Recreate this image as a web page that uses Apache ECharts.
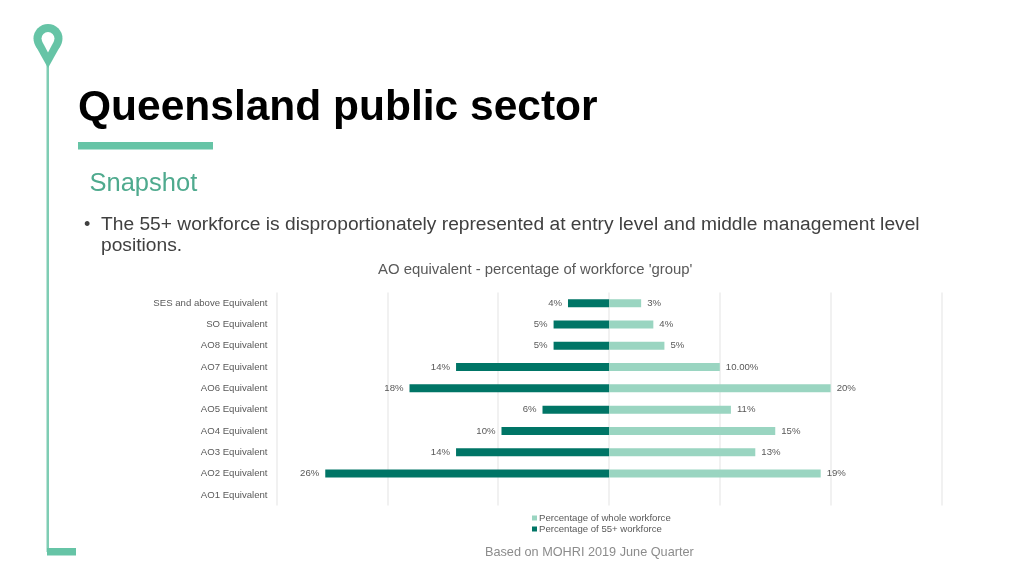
<!DOCTYPE html>
<html lang="en">
<head>
    <meta charset="UTF-8">
    <title>Queensland public sector</title>
    <script src="https://cdn.jsdelivr.net/npm/echarts@6/dist/echarts.min.js"></script>
    <style>
        html, body { margin: 0; padding: 0; background: #fff; }
        #main { width: 1024px; height: 576px; }
    </style>
</head>
<body>
    <div id="main"></div>
    <script>
        // Values, in percent
        var categories = ['SES and above Equivalent', 'SO Equivalent', 'AO8 Equivalent', 'AO7 Equivalent',
            'AO6 Equivalent', 'AO5 Equivalent', 'AO4 Equivalent', 'AO3 Equivalent', 'AO2 Equivalent', 'AO1 Equivalent'];
        var wholeWorkforce = [2.9, 4.0, 5.0, 10.0, 20.0, 11.0, 15.0, 13.2, 19.1, null];
        var workforce55 = [3.7, 5.0, 5.0, 13.8, 18.0, 6.0, 9.7, 13.8, 25.6, null];
        var wholeLabels = ['3%', '4%', '5%', '10.00%', '20%', '11%', '15%', '13%', '19%', ''];
        var labels55 = ['4%', '5%', '5%', '14%', '18%', '6%', '10%', '14%', '26%', ''];

        var green = '#66c4a6';
        var font = '"Liberation Sans", Arial, sans-serif';

        var chartDom = document.getElementById('main');
        var myChart = echarts.init(chartDom);

        // Slide furniture around the chart
        var furniture = [
            { type: 'rect', shape: { x: 46.5, y: 62, width: 2.5, height: 490 }, style: { fill: '#7fcdb4' } },
            { type: 'rect', shape: { x: 47, y: 548, width: 29, height: 7.5 }, style: { fill: green } },
            { type: 'rect', shape: { x: 78, y: 142, width: 135, height: 7.5 }, style: { fill: green } },
            // map pin: circle + triangle, with a smaller white one on top for the hole
            { type: 'circle', shape: { cx: 48, cy: 38.5, r: 14.5 }, style: { fill: green } },
            { type: 'polygon', shape: { points: [[35.4, 45.6], [60.6, 45.6], [48, 68]] }, style: { fill: green } },
            { type: 'circle', shape: { cx: 48, cy: 38.5, r: 6.5 }, style: { fill: '#fff' } },
            { type: 'polygon', shape: { points: [[42.2, 41.5], [53.8, 41.5], [48, 52.5]] }, style: { fill: '#fff' } },
            { type: 'text', style: { x: 78, y: 108, text: 'Queensland public sector', fill: '#000', font: 'bold 42.5px ' + font, textVerticalAlign: 'middle' } },
            { type: 'text', style: { x: 89.5, y: 184, text: 'Snapshot', fill: '#4faa8e', font: '25.5px ' + font, textVerticalAlign: 'middle' } },
            { type: 'text', style: { x: 84, y: 225, text: '•', fill: '#404040', font: '18px ' + font, textVerticalAlign: 'middle' } },
            { type: 'text', style: { x: 101, y: 225, text: 'The 55+ workforce is disproportionately represented at entry level and middle management level', fill: '#404040', font: '19.2px ' + font, textVerticalAlign: 'middle' } },
            { type: 'text', style: { x: 101, y: 246, text: 'positions.', fill: '#404040', font: '19.2px ' + font, textVerticalAlign: 'middle' } },
            { type: 'text', style: { x: 378, y: 270, text: "AO equivalent - percentage of workforce 'group'", fill: '#595959', font: '14.9px ' + font, textVerticalAlign: 'middle' } },
            { type: 'text', style: { x: 485, y: 552, text: 'Based on MOHRI 2019 June Quarter', fill: '#8c8c8c', font: '12.7px ' + font, textVerticalAlign: 'middle' } }
        ];

        var option = {
            animation: false,
            textStyle: { fontFamily: font },
            graphic: furniture,
            grid: { left: 276.5, right: 82.5, top: 292.5, height: 213, containLabel: false },
            legend: {
                left: 532,
                top: 513,
                orient: 'vertical',
                itemWidth: 5,
                itemHeight: 5,
                itemGap: 1,
                icon: 'rect',
                data: ['Percentage of whole workforce', 'Percentage of 55+ workforce'],
                textStyle: { color: '#595959', fontSize: 9.6, padding: [0, 0, 0, -3] },
                padding: 0
            },
            xAxis: {
                type: 'value',
                min: -30,
                max: 30,
                interval: 10,
                axisLabel: { show: false },
                axisLine: { show: false },
                axisTick: { show: false },
                splitLine: { lineStyle: { color: '#ececec', width: 1.5 } }
            },
            yAxis: {
                type: 'category',
                inverse: true,
                data: categories,
                axisLine: { show: false },
                axisTick: { show: false },
                axisLabel: { color: '#595959', fontSize: 9.6, margin: 9 }
            },
            series: [
                {
                    name: 'Percentage of whole workforce',
                    type: 'bar',
                    stack: 'total',
                    barWidth: 8,
                    itemStyle: { color: '#9ad5c1' },
                    label: {
                        show: true,
                        position: 'right',
                        distance: 6,
                        color: '#595959',
                        fontSize: 9.6,
                        formatter: function (p) { return wholeLabels[p.dataIndex]; }
                    },
                    data: wholeWorkforce
                },
                {
                    name: 'Percentage of 55+ workforce',
                    type: 'bar',
                    stack: 'total',
                    barWidth: 8,
                    itemStyle: { color: '#007566' },
                    label: {
                        show: true,
                        position: 'left',
                        distance: 6,
                        color: '#595959',
                        fontSize: 9.6,
                        formatter: function (p) { return labels55[p.dataIndex]; }
                    },
                    // drawn to the left of zero
                    data: workforce55.map(function (v) { return v === null ? null : -v; })
                }
            ]
        };
        myChart.setOption(option);
    </script>
</body>
</html>
